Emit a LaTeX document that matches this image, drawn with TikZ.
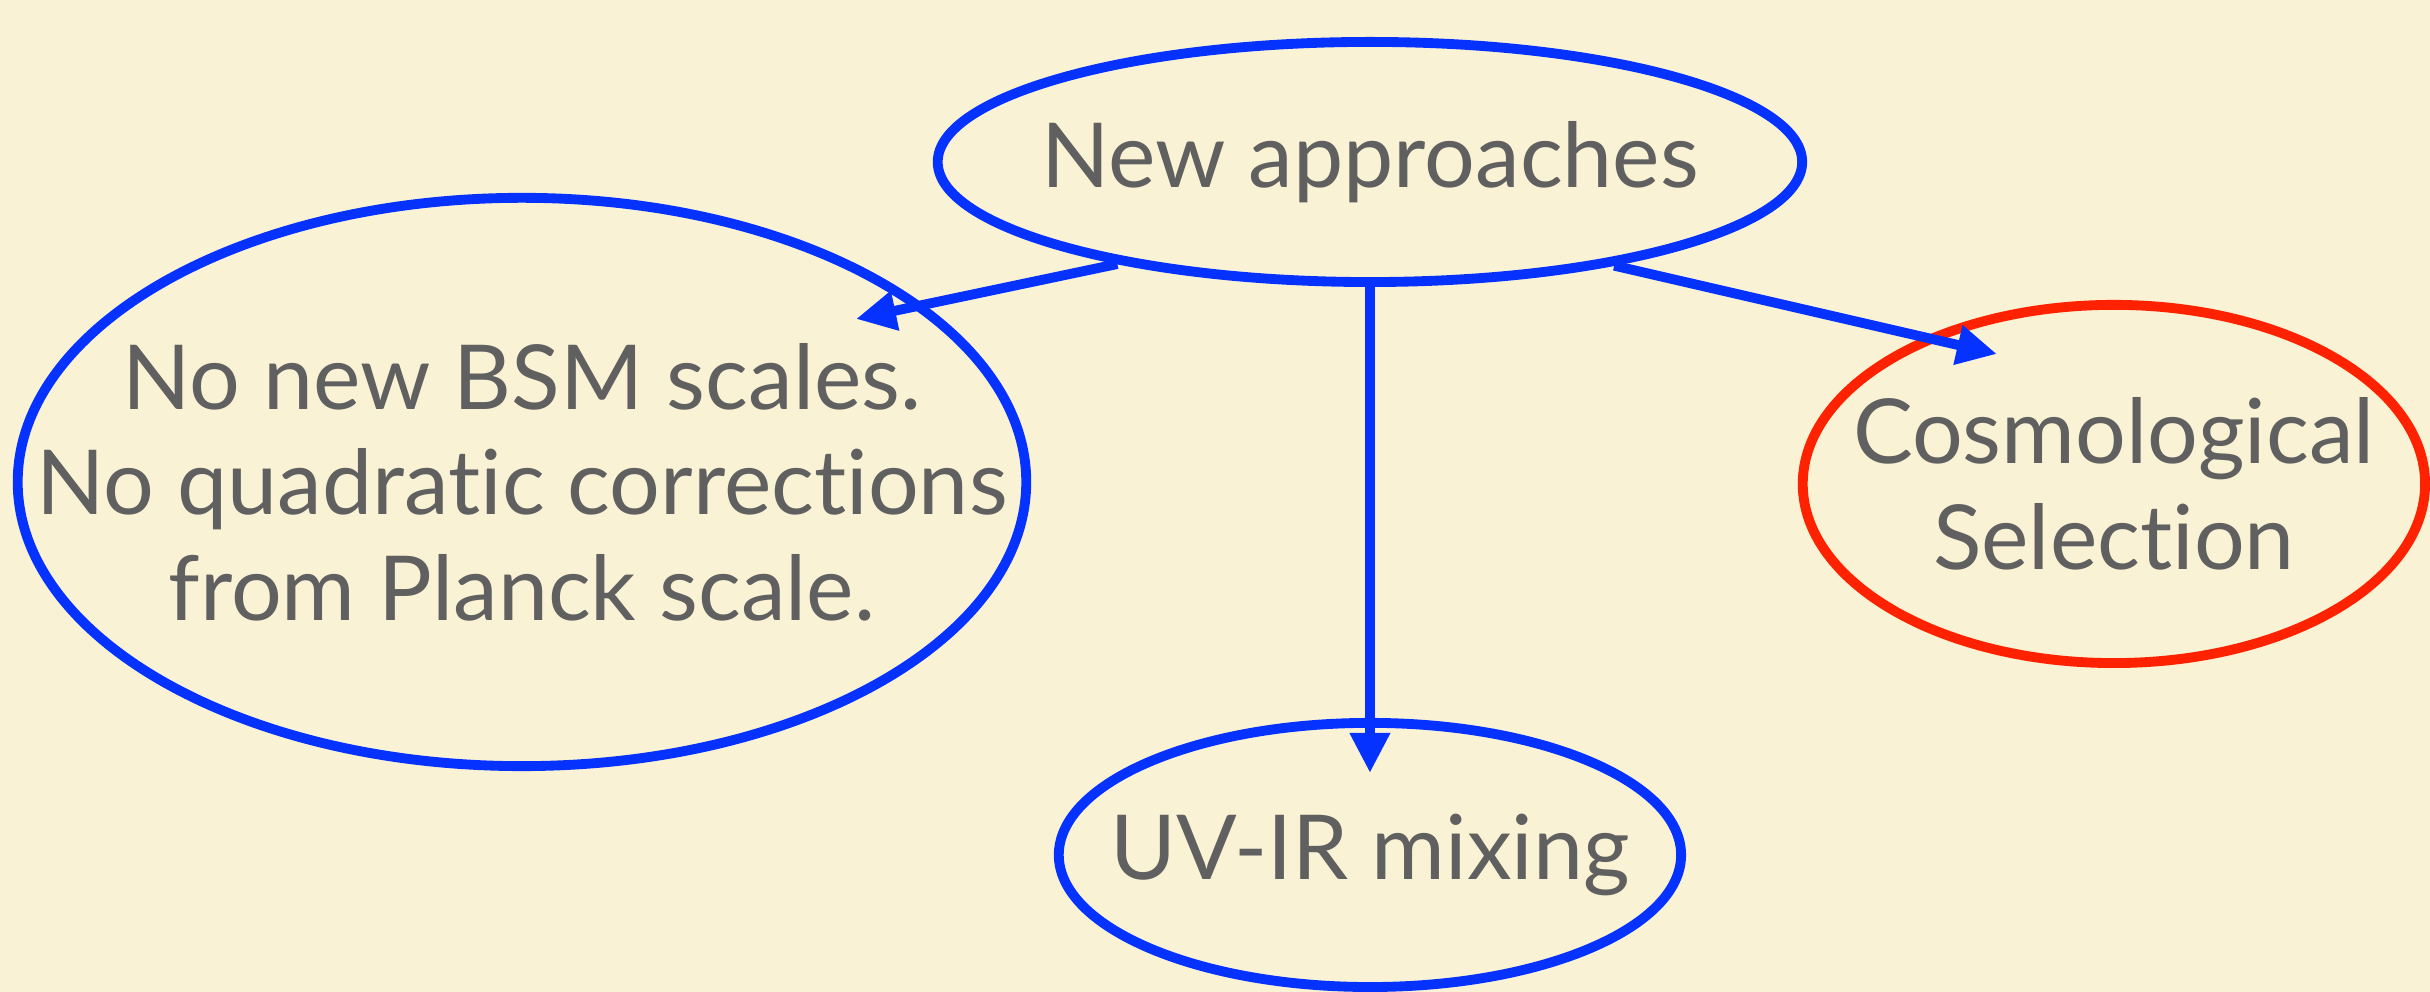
\documentclass[tikz,border=0pt]{standalone}
\usepackage{fontspec}
\setmainfont{Lato}[Ligatures=NoCommon]
\usetikzlibrary{shapes.geometric, arrows.meta}

\definecolor{paper}{RGB}{250,242,212}
\definecolor{inkblue}{RGB}{5,50,255}
\definecolor{inkred}{RGB}{255,34,0}
\definecolor{textgray}{RGB}{96,96,96}

\begin{document}
\begin{tikzpicture}[x=0.01cm, y=-0.01cm,
    bubble/.style={ellipse, draw=inkblue, line width=2.8pt, inner sep=0pt},
    words/.style={align=center, text=textgray, font=\fontsize{25.5}{30}\selectfont},
    link/.style={draw=inkblue, line width=2.8pt, -{Triangle[length=0.4cm, width=0.38cm]}}]
  % background and size
  \fill[paper] (0,0) rectangle (2430,992);

  % the four bubbles
  \node[bubble, minimum width=8.64cm, minimum height=2.40cm,
        label={[words]center:New approaches}] (na) at (1370,162) {};
  \node[bubble, minimum width=10.08cm, minimum height=5.68cm,
        label={[words]center:{No new BSM scales.\\No quadratic corrections\\from Planck scale.}}] (bsm) at (522,482) {};
  \node[bubble, draw=inkred, minimum width=6.22cm, minimum height=3.58cm,
        label={[words]center:{Cosmological\\Selection}}] (cosmo) at (2114,484) {};
  \node[bubble, minimum width=6.22cm, minimum height=2.64cm,
        label={[words]center:UV-IR mixing}] (uvir) at (1370,855) {};

  % arrow tips end inside the bubbles
  \coordinate (bsm tip) at (856,319);
  \coordinate (cosmo tip) at (1997,354);
  \coordinate (uvir tip) at (1370,773);

  \draw[link] (na.202) -- (bsm tip);
  \draw[link] (na.south) -- (uvir tip);
  \draw[link] (na.337) -- (cosmo tip);
\end{tikzpicture}
\end{document}
